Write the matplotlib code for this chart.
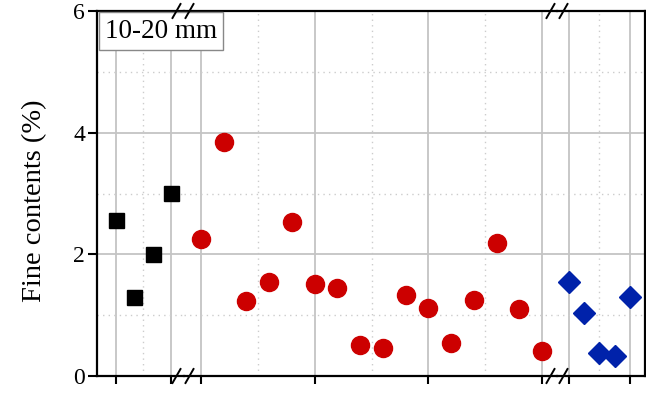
import matplotlib
matplotlib.use('Agg')
import matplotlib.pyplot as plt
from matplotlib.lines import Line2D
from matplotlib.patches import Rectangle

plt.rcParams['font.family'] = ['Liberation Serif', 'DejaVu Serif']

# ---- data ----
black_x = [0, 1, 2, 3]
black_y = [2.57, 1.30, 2.00, 3.01]
red_x = list(range(16))
red_y = [2.26, 3.85, 1.24, 1.55, 2.53, 1.52, 1.45, 0.51, 0.46, 1.33,
         1.11, 0.54, 1.25, 2.18, 1.10, 0.41]
blue_x = [0, 1, 2, 3, 4]
blue_y = [1.55, 1.04, 0.37, 0.33, 1.30]
y_ticks = [0, 2, 4, 6]
y_minor = [1, 3, 5]
label_text = '10-20 mm'
y_label = 'Fine contents (%)'

W, H = 646, 393
fig = plt.figure(figsize=(W / 100, H / 100), dpi=100)


def fx(px):
    return px / W


def fy(py):
    return 1 - py / H


top, bottom = 11, 376
GRID = '#c4c4c4'

segs = [
    dict(x=black_x, y=black_y, px=(97, 184), xlim=(-1.036, 3.71), major=[0, 3],
         minor=[1.5], marker='s', color='black', ms=10.8),
    dict(x=red_x, y=red_y, px=(184, 557), xlim=(-0.748, 15.66), major=[0, 5, 10, 15],
         minor=[2.5, 7.5, 12.5], marker='o', color='#cc0000', ms=13),
    dict(x=blue_x, y=blue_y, px=(557, 645), xlim=(-0.787, 4.984), major=[0, 4],
         minor=[2], marker='D', color='#0022aa', ms=11.3),
]

axes = []
for i, s in enumerate(segs):
    l, r = s['px']
    ax = fig.add_axes([fx(l), fy(bottom), (r - l) / W, (bottom - top) / H])
    ax.set_xlim(*s['xlim'])
    ax.set_ylim(0, 6)
    ax.set_xticks(s['major'])
    ax.set_xticks(s['minor'], minor=True)
    ax.set_yticks(y_ticks)
    ax.set_yticks(y_minor, minor=True)
    ax.set_xticklabels([])
    ax.grid(which='major', color=GRID, lw=1.3, zorder=0)
    ax.grid(which='minor', color='#cccccc', lw=1.0, ls=(0, (1, 3)), zorder=0)
    ax.set_axisbelow(True)
    ax.tick_params(axis='x', which='major', direction='out', length=6, width=1.5,
                   color='black')
    ax.tick_params(axis='both', which='minor', length=0)
    if i == 0:
        ax.tick_params(axis='y', which='major', direction='out', length=6.5, width=1.5,
                       labelsize=17, pad=2)
    else:
        ax.tick_params(axis='y', which='both', left=False, labelleft=False)
    for name, sp in ax.spines.items():
        sp.set_linewidth(1.6)
        sp.set_color('black')
    if i > 0:
        ax.spines['left'].set_visible(False)
    if i < 2:
        ax.spines['right'].set_visible(False)
    ax.plot(s['x'], s['y'], ls='none', marker=s['marker'], color=s['color'],
            ms=s['ms'], mec=s['color'], zorder=5, clip_on=False)
    ax.patch.set_alpha(0)
    axes.append(ax)

# break marks
for cx in (183, 557):
    for yy in (top, bottom):
        for d in (-6.5, 6.5):
            x0 = cx + d
            fig.add_artist(Line2D([fx(x0 - 4), fx(x0 + 4)], [fy(yy + 7), fy(yy - 7)],
                                  transform=fig.transFigure, color='black', lw=1.4,
                                  zorder=10))

# label box
fig.add_artist(Rectangle((fx(98.5), fy(50)), (223 - 98.5) / W, (50 - 12) / H,
                         transform=fig.transFigure, facecolor='white',
                         edgecolor='#888888', lw=1.0, zorder=4))
fig.text(fx(161), fy(31), label_text, ha='center', va='center', fontsize=19.5,
         zorder=6)

fig.text(fx(35), fy(201), y_label, rotation=90, ha='center', va='center',
         fontsize=20.5)

fig.savefig('out.png', dpi=100)
